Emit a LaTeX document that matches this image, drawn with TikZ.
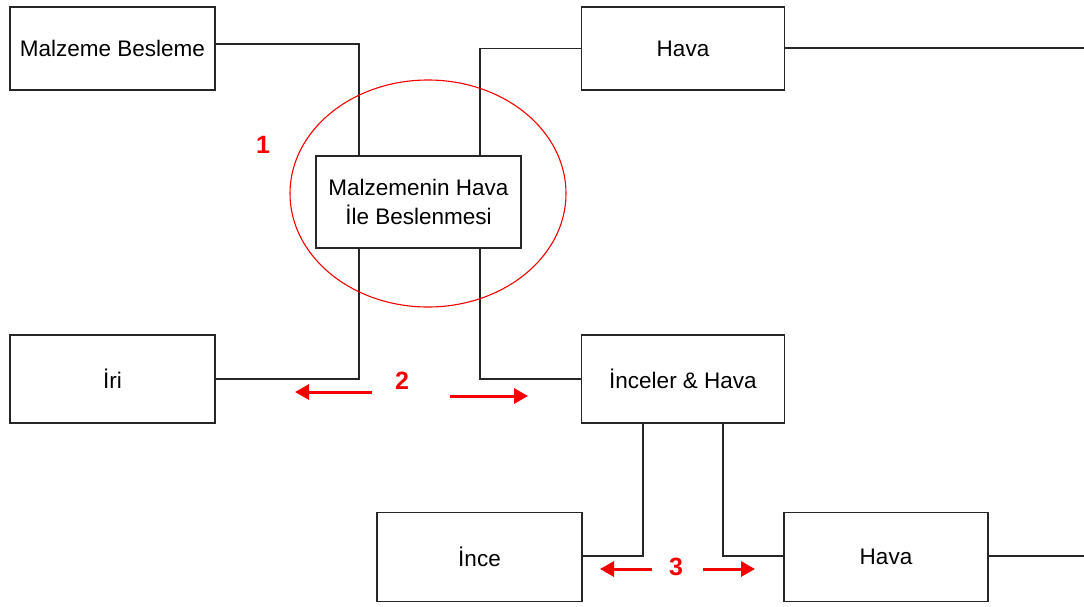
\documentclass[tikz,border=0pt]{standalone}
\usepackage{fontspec}
\setmainfont{Liberation Sans}
\usetikzlibrary{arrows.meta,calc,shapes.geometric}
\definecolor{redmark}{RGB}{245,0,0}
\tikzset{
  box/.style={draw=black!85, line width=1.4pt, minimum width=204pt, minimum height=86pt, inner sep=0pt, font=\fontsize{22.5}{29.5}\selectfont, align=center},
  conn/.style={draw=black!85, line width=1.4pt},
  redarrow/.style={draw=redmark, line width=3pt, -{Triangle[length=14pt,width=15pt]}},
  rednum/.style={text=redmark, font=\fontsize{25}{30}\selectfont\bfseries, inner sep=0pt},
}
\begin{document}
\begin{tikzpicture}[x=1pt,y=-1pt]
\useasboundingbox (0,0) rectangle (1084,606);
\fill[white] (0,0) rectangle (1084,606);
% boxes
\node[box, minimum width=205pt, minimum height=83pt] (mb) at (112.5,48.5) {Malzeme Besleme};
\node[box, minimum width=203pt, minimum height=83pt] (hava1) at (683,48.5) {Hava};
\node[box, minimum width=205pt, minimum height=92pt] (mid) at (418.5,202) {Malzemenin Hava\\İle Beslenmesi};
\node[box, minimum width=205pt, minimum height=88pt] (iri) at (112.5,379) {İri};
\node[box, minimum width=203pt, minimum height=88pt] (inceler) at (683,379) {İnceler \& Hava};
\node[box, minimum width=205pt, minimum height=89pt] (ince) at (479.5,557) {İnce};
\node[box, minimum width=204pt, minimum height=89pt] (hava2) at (886,557) {Hava};
% free ends at the right edge
\coordinate (e1) at (1084,48);
\coordinate (e2) at (1084,556);
% connectors
\draw[conn] ([yshift=4.5pt]mb.east) -| ([xshift=-59.5pt]mid.north);
\draw[conn] (hava1.west) -| ([xshift=61.5pt]mid.north);
\draw[conn] (hava1.east) -- (e1 -| hava1.east) -- (e1);
\draw[conn] ([xshift=-59.5pt]mid.south) |- (iri.east);
\draw[conn] ([xshift=61.5pt]mid.south) |- (inceler.west);
\draw[conn] ([xshift=-40pt]inceler.south) |- ([yshift=1pt]ince.east);
\draw[conn] ([xshift=40pt]inceler.south) |- ([yshift=1pt]hava2.west);
\draw[conn] ([yshift=1pt]hava2.east) -- (e2);
% red marking
\node[draw=redmark, line width=1.1pt, ellipse, minimum width=276pt, minimum height=227pt, inner sep=0pt] (circ) at (428,193.5) {};
\node[rednum] (n1) at (263,145) {1};
\node[rednum] (n2) at (402,381) {2};
\node[rednum] (n3) at (676,567) {3};
\coordinate (a2l) at (372,392);
\coordinate (a2lt) at (295,392);
\coordinate (a2r) at (450,396);
\coordinate (a2rt) at (528,396);
\coordinate (a3l) at (652,569);
\coordinate (a3lt) at (600,569);
\coordinate (a3r) at (703,569);
\coordinate (a3rt) at (755,569);
\draw[redarrow] (a2l) -- (a2lt);
\draw[redarrow] (a2r) -- (a2rt);
\draw[redarrow] (a3l) -- (a3lt);
\draw[redarrow] (a3r) -- (a3rt);
\end{tikzpicture}
\end{document}
